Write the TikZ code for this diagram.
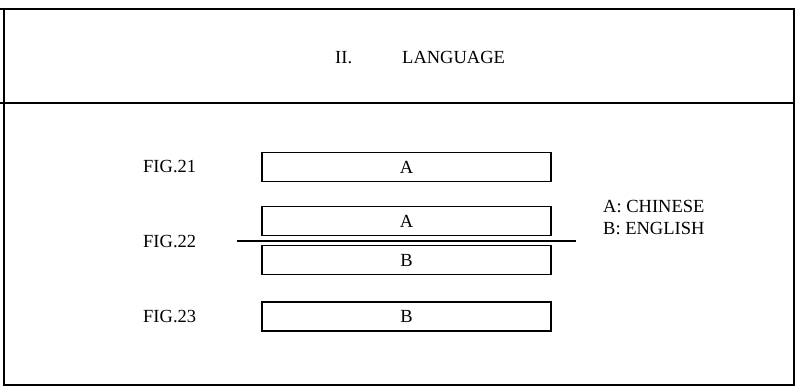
\documentclass[tikz,border=0pt]{standalone}
\usepackage{fontspec}
\setmainfont{Liberation Serif}
\usepackage{tikz}

\tikzset{
  langbox/.style={draw, line width=1.5pt, minimum width=289pt, minimum height=29pt, inner sep=0pt, font=\fontsize{18.5}{21}\selectfont},
  figtxt/.style={anchor=base west, inner sep=0pt, font=\fontsize{18.5}{21}\selectfont}
}

\begin{document}
\begin{tikzpicture}[x=1pt, y=-1pt]
\useasboundingbox (0,0) rectangle (795,387);
% frame
\draw[line width=1.3pt] (0,9)--(795,9);
\draw[line width=1.3pt] (0,103)--(795,103);
\draw[line width=1.3pt] (4,9)--(4,386);
\draw[line width=1.3pt] (794,9)--(794,386);
\draw[line width=1.3pt] (4,385)--(794,385);

% heading
\node[figtxt] (num) at (335,64) {II.};
\node[figtxt] (title) at (402,64) {LANGUAGE};

% figures
\node[figtxt] (fig21) at (143,173) {FIG.21};
\node[figtxt] (fig22) at (143,248) {FIG.22};
\node[figtxt] (fig23) at (143,323) {FIG.23};

\node[langbox] (a1) at (406.5,167) {A};
\node[langbox] (a2) at (406.5,221) {A};
\node[langbox] (b1) at (406.5,260) {B};
\node[langbox] (b2) at (406.5,316.5) {B};

\coordinate (cutl) at (237,241);
\coordinate (cutr) at (576,241);
\draw[line width=1.5pt] (cutl)--(cutr);

% key
\node[figtxt] (keya) at (603,213) {A: CHINESE};
\node[figtxt] (keyb) at (603,235) {B: ENGLISH};
\end{tikzpicture}
\end{document}
